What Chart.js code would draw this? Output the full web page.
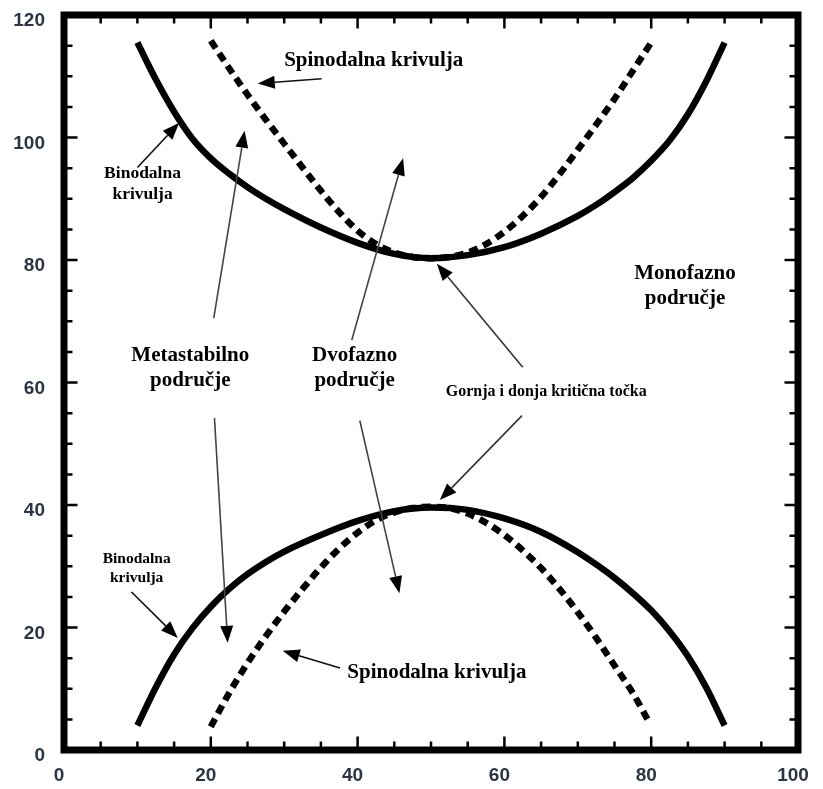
<!doctype html>
<html>
<head>
    <title>Binodalna i spinodalna krivulja</title>
    <script src="https://cdn.jsdelivr.net/npm/chart.js@4.4.1/dist/chart.umd.min.js"></script>
    <style>
    body { margin: 0; background: #fff; }
    #container { width: 823px; height: 789px; }
    </style>
</head>
<body>
    <div id="container">
        <canvas id="canvas"></canvas>
    </div>
    <script>
        // curve values (x = composition, y = temperature)
        var binUpX = [10, 12.5, 15, 17.5, 20, 22.5, 25, 27.5, 30, 35, 40, 45, 50, 55, 60, 65, 70, 72.5, 75, 77.5, 80, 82.5, 85, 87.5, 90];
        var binUpY = [115.5, 109.5, 104.2, 99.8, 96.6, 94.1, 91.9, 90, 88.3, 85.3, 82.8, 81, 80.3, 80.8, 82.1, 84.3, 87.2, 89, 91.1, 93.4, 96.2, 99.5, 103.8, 109.2, 115.5];
        var spinUpX = [20, 22.5, 25, 27.5, 30, 32.5, 35, 37.5, 40, 42.5, 45, 47.5, 50, 52.5, 55, 57.5, 60, 62.5, 65, 67.5, 70, 72.5, 75, 77.5, 80];
        var spinUpY = [115.8, 111.3, 107, 102.9, 99, 95.1, 91.3, 87.8, 84.8, 82.6, 81.2, 80.5, 80.3, 80.5, 81.2, 82.6, 84.6, 87.2, 90.3, 94, 98, 102.1, 106.3, 110.9, 115.5];
        var binLoX = [10, 12.5, 15, 17.5, 20, 22.5, 25, 27.5, 30, 35, 40, 45, 50, 55, 60, 65, 70, 72.5, 75, 77.5, 80, 82.5, 85, 87.5, 90];
        var binLoY = [4, 10.2, 15.6, 19.9, 23.4, 26.3, 28.7, 30.7, 32.4, 35.1, 37.4, 39, 39.6, 39.2, 37.8, 35.6, 32.3, 30.3, 28.1, 25.6, 22.8, 19.4, 15.3, 10.2, 4];
        var spinLoX = [20, 22.5, 25, 27.5, 30, 32.5, 35, 37.5, 40, 42.5, 45, 47.5, 50, 52.5, 55, 57.5, 60, 62.5, 65, 67.5, 70, 72.5, 75, 77.5, 79.5];
        var spinLoY = [3.8, 9.3, 14.2, 18.6, 22.6, 26.3, 29.8, 32.9, 35.5, 37.5, 38.8, 39.5, 39.7, 39.5, 38.6, 37.1, 35.1, 32.6, 29.7, 26.3, 22.5, 18.3, 13.8, 9.3, 5];

        var xTicks = [0, 20, 40, 60, 80, 100];
        var yTicks = [0, 20, 40, 60, 80, 100, 120];

        // labels and arrows, placed in data units
        var labels = [
            { text: ['Spinodalna krivulja'], at: [42.2, 112.6], size: 21 },
            { text: ['Binodalna', 'krivulja'], at: [10.7, 94.1], size: 17.5 },
            { text: ['Metastabilno', 'područje'], at: [17.2, 64.4], size: 21 },
            { text: ['Dvofazno', 'područje'], at: [39.6, 64.4], size: 21 },
            { text: ['Monofazno', 'područje'], at: [84.6, 77.8], size: 21 },
            { text: ['Gornja i donja kritična točka'], at: [65.7, 58.4], size: 16 },
            { text: ['Binodalna', 'krivulja'], at: [9.9, 31.2], size: 15.5 },
            { text: ['Spinodalna krivulja'], at: [50.8, 12.7], size: 21 }
        ];
        var arrows = [
            [35.1, 109.6, 26.4, 108.8, '#111'],
            [10.0, 95.1, 15.7, 102.4, '#111'],
            [20.4, 70.5, 24.6, 101.1, '#444'],
            [20.5, 54.2, 22.3, 17.5, '#444'],
            [39.2, 66.9, 46.2, 96.6, '#444'],
            [40.3, 53.8, 45.7, 25.6, '#444'],
            [62.5, 62.5, 50.8, 79.4, '#333'],
            [62.4, 54.6, 51.2, 40.8, '#333'],
            [9.2, 25.8, 15.5, 18.3, '#111'],
            [37.6, 13.4, 29.8, 16.2, '#111']
        ];

        function pts(xs, ys) {
            var out = [];
            for (var i = 0; i < xs.length; i++) out.push({ x: xs[i], y: ys[i] });
            return out;
        }

        function curve(xs, ys, dashed) {
            return {
                data: pts(xs, ys),
                showLine: true,
                borderColor: '#000',
                borderWidth: 6.5,
                borderDash: dashed ? [9, 6] : [],
                pointRadius: 0,
                cubicInterpolationMode: 'monotone',
                fill: false
            };
        }

        function drawArrow(ctx, x1, y1, x2, y2, color) {
            var ang = Math.atan2(y2 - y1, x2 - x1);
            var len = 17, half = 6.5;
            var bx = x2 - len * Math.cos(ang), by = y2 - len * Math.sin(ang);
            ctx.strokeStyle = color;
            ctx.lineWidth = 1.6;
            ctx.beginPath();
            ctx.moveTo(x1, y1);
            ctx.lineTo(bx, by);
            ctx.stroke();
            ctx.fillStyle = '#000';
            ctx.beginPath();
            ctx.moveTo(x2, y2);
            ctx.lineTo(bx + half * Math.sin(ang), by - half * Math.cos(ang));
            ctx.lineTo(bx - half * Math.sin(ang), by + half * Math.cos(ang));
            ctx.closePath();
            ctx.fill();
        }

        var framePlugin = {
            id: 'frame',
            afterDraw: function(chart) {
                var ctx = chart.ctx, a = chart.chartArea;
                var sx = chart.scales.x, sy = chart.scales.y;
                ctx.save();
                // inner ticks every 5 units, longer on the labelled ones
                ctx.strokeStyle = '#000';
                ctx.lineWidth = 2.5;
                ctx.beginPath();
                for (var v = 0; v <= 100; v += 5) {
                    var px = sx.getPixelForValue(v);
                    var l = v % 20 === 0 ? 13.5 : 8.5;
                    ctx.moveTo(px, a.bottom); ctx.lineTo(px, a.bottom - l);
                    ctx.moveTo(px, a.top); ctx.lineTo(px, a.top + l);
                }
                for (var w = 0; w <= 120; w += 5) {
                    var py = sy.getPixelForValue(w);
                    var m = w % 20 === 0 ? 13.5 : 8.5;
                    ctx.moveTo(a.left, py); ctx.lineTo(a.left + m, py);
                    ctx.moveTo(a.right, py); ctx.lineTo(a.right - m, py);
                }
                ctx.stroke();
                ctx.lineWidth = 7;
                ctx.strokeRect(a.left, a.top, a.right - a.left, a.bottom - a.top);

                // arrows
                arrows.forEach(function(r) {
                    drawArrow(ctx, sx.getPixelForValue(r[0]), sy.getPixelForValue(r[1]),
                        sx.getPixelForValue(r[2]), sy.getPixelForValue(r[3]), r[4]);
                });

                // text
                ctx.fillStyle = '#000';
                ctx.textAlign = 'center';
                ctx.textBaseline = 'middle';
                labels.forEach(function(lb) {
                    ctx.font = 'bold ' + lb.size + 'px "Liberation Serif", "Times New Roman", serif';
                    var cx = sx.getPixelForValue(lb.at[0]), cy = sy.getPixelForValue(lb.at[1]);
                    lb.text.forEach(function(t, i) {
                        ctx.fillText(t, cx, cy + i * lb.size * 1.2);
                    });
                });
                ctx.restore();
            }
        };

        var tickFont = { family: '"Liberation Sans", Arial, sans-serif', size: 19, weight: 'bold' };

        window.onload = function() {
            var ctx = document.getElementById('canvas').getContext('2d');
            window.myChart = new Chart(ctx, {
                type: 'scatter',
                data: {
                    datasets: [
                        curve(binUpX, binUpY, false),
                        curve(spinUpX, spinUpY, true),
                        curve(binLoX, binLoY, false),
                        curve(spinLoX, spinLoY, true)
                    ]
                },
                options: {
                    responsive: true,
                    maintainAspectRatio: false,
                    animation: false,
                    layout: { padding: { top: 15, right: 25, left: 0, bottom: 0 } },
                    plugins: { legend: { display: false }, tooltip: { enabled: false } },
                    scales: {
                        x: {
                            type: 'linear', min: 0, max: 100,
                            afterFit: function(s) { s.height = 39; s.paddingLeft = 0; s.paddingRight = 0; },
                            afterBuildTicks: function(s) { s.ticks = xTicks.map(function(v) { return { value: v }; }); },
                            grid: { display: false, drawTicks: false },
                            border: { display: false },
                            ticks: { font: tickFont, color: '#2b3544', padding: 14, labelOffset: -5, maxRotation: 0 }
                        },
                        y: {
                            type: 'linear', min: 0, max: 120,
                            afterFit: function(s) { s.width = 64; s.paddingTop = 0; s.paddingBottom = 0; },
                            afterBuildTicks: function(s) { s.ticks = yTicks.map(function(v) { return { value: v }; }); },
                            grid: { display: false, drawTicks: false },
                            border: { display: false },
                            ticks: { font: tickFont, color: '#2b3544', padding: 19, labelOffset: 6 }
                        }
                    }
                },
                plugins: [framePlugin]
            });
        };
    </script>
</body>
</html>
